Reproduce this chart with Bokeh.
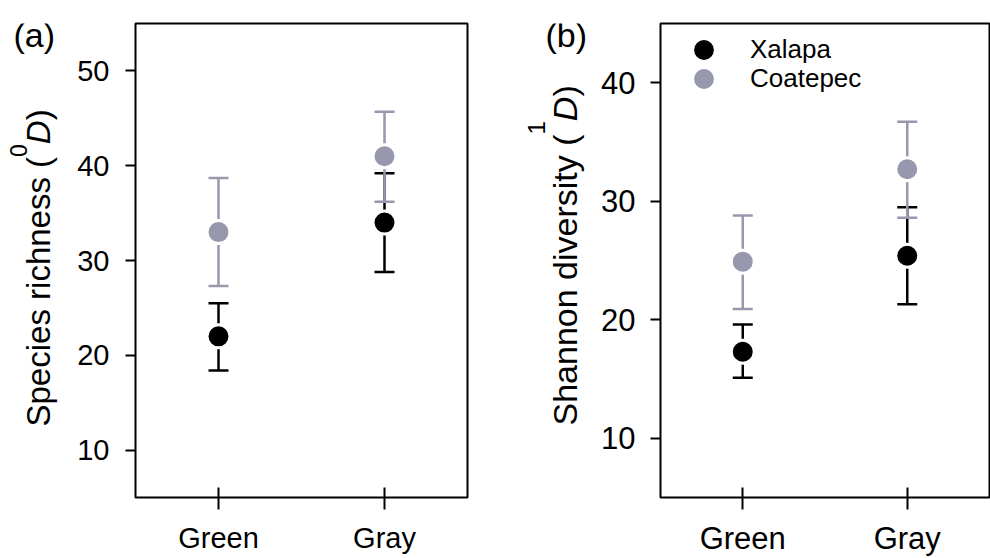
import math
from bokeh.plotting import figure
from bokeh.layouts import row
from bokeh.models import FixedTicker, Label, Legend, LegendItem
from bokeh.embed import file_html
from bokeh.resources import INLINE

# ---------------- data ----------------
categories = ["Green", "Gray"]
series_names = ["Xalapa", "Coatepec"]

richness_xalapa = [22.0, 34.0]
richness_xalapa_low = [18.4, 28.8]
richness_xalapa_high = [25.5, 39.2]
richness_coatepec = [33.0, 41.0]
richness_coatepec_low = [27.3, 36.2]
richness_coatepec_high = [38.7, 45.7]

shannon_xalapa = [17.3, 25.4]
shannon_xalapa_low = [15.1, 21.3]
shannon_xalapa_high = [19.6, 29.5]
shannon_coatepec = [24.9, 32.7]
shannon_coatepec_low = [20.9, 28.6]
shannon_coatepec_high = [28.8, 36.7]

richness_ticks = [10, 20, 30, 40, 50]
shannon_ticks = [10, 20, 30, 40]

# ---------------- style ----------------
FONT = "Liberation Sans"
BLACK = "#000000"
GRAY = "#9797ad"
H = 558
xpos = [i + 1 for i in range(len(categories))]

# Arial/Liberation Sans advance widths (per 1000 em)
ADV = {" ": 278, "(": 333, ")": 333, "0": 556, "1": 556, "D": 722, "S": 667,
       "a": 556, "c": 500, "d": 556, "e": 556, "h": 556, "i": 222, "n": 556,
       "o": 556, "p": 556, "r": 333, "s": 500, "t": 278, "v": 500, "y": 500}

# empirical placement corrections for text in the strips (pixels)
ROT_ALONG = 21     # rotated text: move up the page
ROT_ACROSS = -14   # rotated text: move left
FLAT_UP = 35       # unrotated text: move up the page


def text_width(s, size):
    return sum(ADV.get(ch, 556) for ch in s) / 1000.0 * size


def add_series(p, vals, lo, hi, color):
    p.segment(x0=xpos, y0=lo, x1=xpos, y1=hi, line_color=color, line_width=2.5)
    p.scatter(x=xpos + xpos, y=lo + hi, marker="dash", size=20,
              line_color=color, line_width=2.5)
    r = p.scatter(x=xpos, y=vals, marker="circle", size=23, fill_color=color,
                  line_color="white", line_width=3)
    return r


def make_panel(width, border_left, border_right, border_top, yrange, yticks,
               tick_size, x_standoff, y_standoff):
    p = figure(width=width, height=H, x_range=(0.5, 2.5), y_range=yrange,
               output_backend="svg", toolbar_location=None, title=None,
               min_border_left=border_left, min_border_right=border_right,
               min_border_top=border_top, min_border_bottom=20)
    p.grid.visible = False
    p.outline_line_color = BLACK
    p.outline_line_width = 2
    p.outline_line_alpha = 1.0
    xa = p.xaxis[0]
    xa.ticker = FixedTicker(ticks=xpos)
    xa.major_label_overrides = {x: c for x, c in zip(xpos, categories)}
    xa.major_tick_in = 10
    xa.major_tick_out = 12
    xa.minor_tick_line_color = None
    xa.axis_line_color = None
    xa.major_tick_line_width = 2
    xa.major_label_text_font = FONT
    xa.major_label_text_font_size = tick_size
    xa.major_label_text_color = BLACK
    xa.major_label_standoff = x_standoff
    ya = p.yaxis[0]
    ya.ticker = FixedTicker(ticks=yticks)
    ya.major_tick_in = 0
    ya.major_tick_out = 10
    ya.minor_tick_line_color = None
    ya.axis_line_color = None
    ya.major_tick_line_width = 2
    ya.major_label_text_font = FONT
    ya.major_label_text_font_size = tick_size
    ya.major_label_text_color = BLACK
    ya.major_label_standoff = y_standoff
    return p


def make_text_strip(width):
    # a blank strip whose data units are pixels (origin at its bottom-left)
    t = figure(frame_width=width, frame_height=H, x_range=(0, width), y_range=(0, H),
               output_backend="svg", toolbar_location=None, title=None,
               x_axis_location=None, y_axis_location=None,
               min_border_left=0, min_border_right=0, min_border_top=0,
               min_border_bottom=0)
    t.grid.visible = False
    t.outline_line_color = None
    return t


def put_text(t, txt, x, y, size, style="normal", angle=0.0):
    t.add_layout(Label(x=x, y=y, text=txt, angle=angle, text_align="left",
                       text_baseline="alphabetic", text_font=FONT,
                       text_font_size=f"{size}px", text_font_style=style,
                       text_color=BLACK))


def add_title(t, left, pieces, page_start_y, page_base_x):
    y = H - page_start_y + ROT_ALONG
    for txt, size, style, shift in pieces:
        put_text(t, txt, page_base_x - left + shift + ROT_ACROSS, y, size, style,
                 math.pi / 2)
        y += text_width(txt, size)


def add_letter(t, left, txt, page_x, page_baseline, size):
    put_text(t, txt, page_x - left, H - page_baseline + FLAT_UP, size)


# ---------------- panel (a) ----------------
ta = make_text_strip(72)
pa = make_panel(428, 63, 33, 23, (5, 55), richness_ticks, "29px", 12, 16)
add_series(pa, richness_xalapa, richness_xalapa_low, richness_xalapa_high, BLACK)
add_series(pa, richness_coatepec, richness_coatepec_low, richness_coatepec_high, GRAY)
add_title(ta, 0, [("Species richness (", 33, "normal", 0),
                  ("0", 23, "normal", -20),
                  ("D", 33, "italic", 0),
                  (")", 33, "normal", 0)], 424, 52)
add_letter(ta, 0, "(a)", 13, 46, 34)

# ---------------- panel (b) ----------------
tb = make_text_strip(98)
pb = make_panel(392, 60, 1, 16, (5, 45), shannon_ticks, "31px", 11, 15)
rx = add_series(pb, shannon_xalapa, shannon_xalapa_low, shannon_xalapa_high, BLACK)
rc = add_series(pb, shannon_coatepec, shannon_coatepec_low, shannon_coatepec_high, GRAY)
add_title(tb, 500, [("Shannon diversity (", 34, "normal", 0),
                    ("1", 24, "normal", -28),
                    ("D", 34, "italic", 0),
                    (")", 34, "normal", 0)], 423, 578)
add_letter(tb, 500, "(b)", 545, 46, 34)

for r, name, ypos in [(rx, series_names[0], 419), (rc, series_names[1], 390)]:
    lg = Legend(items=[LegendItem(label=name, renderers=[r])],
                location=(15, ypos), glyph_width=57, glyph_height=57,
                padding=0, margin=0, label_standoff=18, label_text_font=FONT,
                label_text_font_size="26px", label_text_color=BLACK,
                border_line_color=None, background_fill_alpha=0)
    pb.add_layout(lg)

layout = row(ta, pa, tb, pb)
open("out.html", "w").write(file_html(layout, INLINE))
